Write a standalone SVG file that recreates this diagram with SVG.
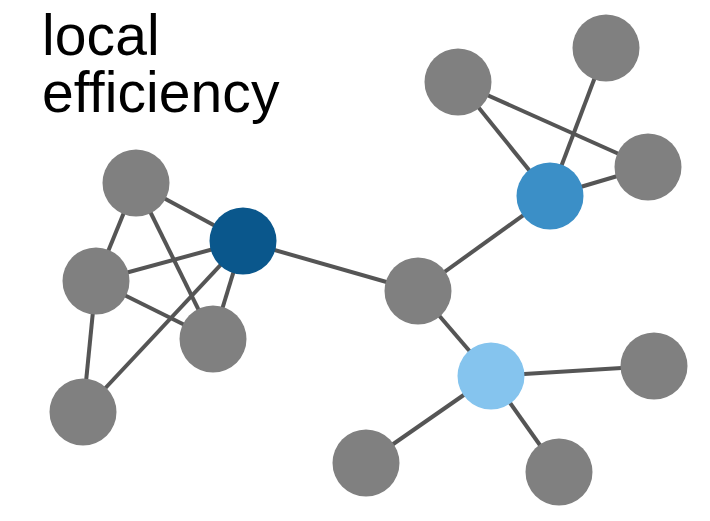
<svg xmlns="http://www.w3.org/2000/svg" width="710" height="521" viewBox="0 0 710 521">
<style>
.e{stroke:#555;stroke-width:4;fill:none}
.g{fill:#808080}
.t{font-family:"Liberation Sans",Arial,sans-serif;font-size:57px;fill:#000;font-variant-ligatures:none;font-feature-settings:"liga" 0;letter-spacing:0.1px}
</style>
<rect width="710" height="521" fill="#fff"/>
<g id="title"><text class="t"><tspan x="42" y="55">local</tspan><tspan x="42" y="112">efficiency</tspan></text></g>
<g id="edges">
<line class="e" x1="136" y1="183" x2="96" y2="281"/>
<line class="e" x1="136" y1="183" x2="213" y2="339"/>
<line class="e" x1="136" y1="183" x2="243" y2="241"/>
<line class="e" x1="96" y1="281" x2="243" y2="241"/>
<line class="e" x1="96" y1="281" x2="213" y2="339"/>
<line class="e" x1="96" y1="281" x2="83" y2="412"/>
<line class="e" x1="213" y1="339" x2="243" y2="241"/>
<line class="e" x1="83" y1="412" x2="243" y2="241"/>
<line class="e" x1="243" y1="241" x2="418" y2="291"/>
<line class="e" x1="418" y1="291" x2="550" y2="196"/>
<line class="e" x1="418" y1="291" x2="491" y2="376"/>
<line class="e" x1="458" y1="82" x2="648" y2="167"/>
<line class="e" x1="458" y1="82" x2="550" y2="196"/>
<line class="e" x1="606" y1="48" x2="550" y2="196"/>
<line class="e" x1="648" y1="167" x2="550" y2="196"/>
<line class="e" x1="491" y1="376" x2="654" y2="366"/>
<line class="e" x1="491" y1="376" x2="366" y2="463"/>
<line class="e" x1="491" y1="376" x2="559" y2="472"/>
</g>
<g id="nA"><circle class="g" cx="136" cy="183" r="33.5"/></g>
<g id="nB"><circle class="g" cx="96" cy="281" r="33.5"/></g>
<g id="nC"><circle class="g" cx="213" cy="339" r="33.5"/></g>
<g id="nD"><circle class="g" cx="83" cy="412" r="33.5"/></g>
<g id="nE"><circle cx="243" cy="241" r="33.5" fill="#0a578c"/></g>
<g id="nF"><circle class="g" cx="418" cy="291" r="33.5"/></g>
<g id="nG"><circle class="g" cx="458" cy="82" r="33.5"/></g>
<g id="nH"><circle class="g" cx="606" cy="48" r="33.5"/></g>
<g id="nI"><circle class="g" cx="648" cy="167" r="33.5"/></g>
<g id="nJ"><circle cx="550" cy="196" r="33.5" fill="#3b8fc7"/></g>
<g id="nK"><circle cx="491" cy="376" r="33.5" fill="#85c4ee"/></g>
<g id="nL"><circle class="g" cx="654" cy="366" r="33.5"/></g>
<g id="nM"><circle class="g" cx="366" cy="463" r="33.5"/></g>
<g id="nN"><circle class="g" cx="559" cy="472" r="33.5"/></g>
</svg>
